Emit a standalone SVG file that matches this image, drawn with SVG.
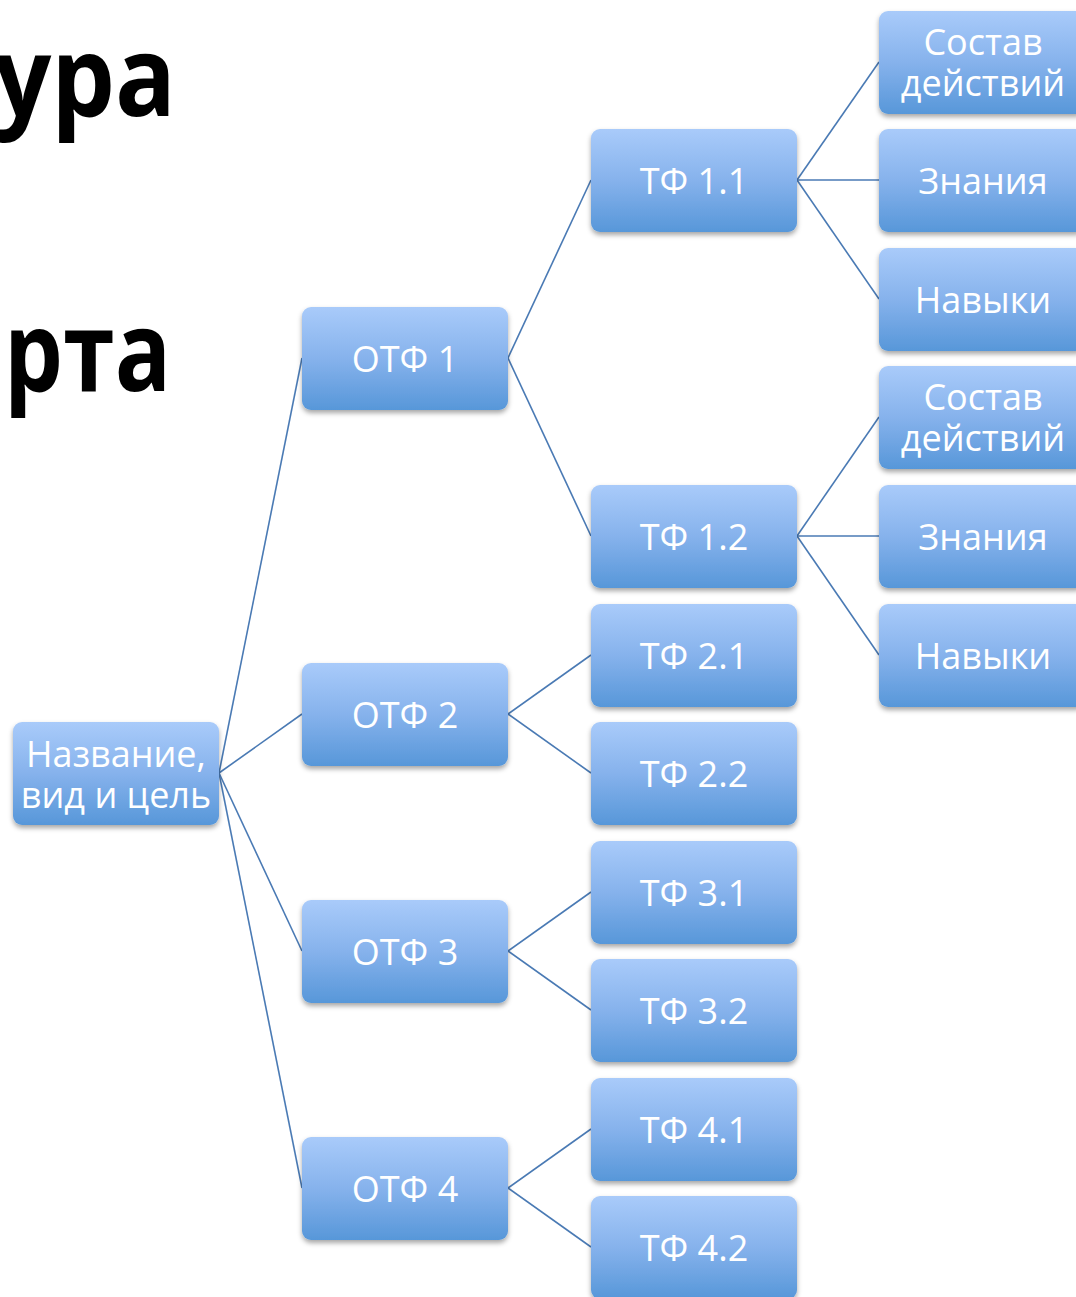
<svg xmlns="http://www.w3.org/2000/svg" width="1076" height="1297" viewBox="0 0 1076 1297">
<defs>
<linearGradient id="g" x1="0" y1="0" x2="0" y2="1">
<stop offset="0" stop-color="#a9cbfa"/>
<stop offset="0.5" stop-color="#86b2ec"/>
<stop offset="1" stop-color="#5797d9"/>
</linearGradient>
<filter id="sh" x="-10%" y="-10%" width="120%" height="130%">
<feDropShadow dx="0" dy="3" stdDeviation="2.5" flood-color="#000" flood-opacity="0.35"/>
</filter>
</defs>
<style>
.n{fill:url(#g);filter:url(#sh)}
.t{font-family:"Open Sans","Noto Sans",sans-serif;font-size:36px;fill:#fff;text-anchor:middle}
.big{font-family:"Open Sans","Noto Sans",sans-serif;font-size:112px;font-weight:bold;fill:#000}
.c line{stroke:#4a7ab4;stroke-width:1.6;fill:none}
</style>
<rect width="1076" height="1297" fill="#fff"/>
<text class="big" x="-6" y="116" textLength="182" lengthAdjust="spacingAndGlyphs">ура</text>
<text class="big" x="4" y="391" textLength="167" lengthAdjust="spacingAndGlyphs">рта</text>
<g class="c" id="connectors">
<line x1="219" y1="773" x2="302" y2="358"/>
<line x1="219" y1="773" x2="302" y2="714"/>
<line x1="219" y1="773" x2="302" y2="951"/>
<line x1="219" y1="773" x2="302" y2="1188"/>
<line x1="508" y1="358" x2="591" y2="180"/>
<line x1="508" y1="358" x2="591" y2="536"/>
<line x1="508" y1="714" x2="591" y2="655"/>
<line x1="508" y1="714" x2="591" y2="773"/>
<line x1="508" y1="951" x2="591" y2="892"/>
<line x1="508" y1="951" x2="591" y2="1010"/>
<line x1="508" y1="1188" x2="591" y2="1129"/>
<line x1="508" y1="1188" x2="591" y2="1247"/>
<line x1="797" y1="180" x2="879" y2="62"/>
<line x1="797" y1="180" x2="879" y2="180"/>
<line x1="797" y1="180" x2="879" y2="299"/>
<line x1="797" y1="536" x2="879" y2="417"/>
<line x1="797" y1="536" x2="879" y2="536"/>
<line x1="797" y1="536" x2="879" y2="655"/>
</g>
<g id="root"><rect class="n" x="13" y="722" width="206" height="103" rx="9"/><text class="t" x="116" y="767">Название,</text><text class="t" x="116" y="808">вид и цель</text></g>
<g id="otf1"><rect class="n" x="302" y="307" width="206" height="103" rx="9"/><text class="t" x="405" y="372">ОТФ 1</text></g>
<g id="otf2"><rect class="n" x="302" y="663" width="206" height="103" rx="9"/><text class="t" x="405" y="728">ОТФ 2</text></g>
<g id="otf3"><rect class="n" x="302" y="900" width="206" height="103" rx="9"/><text class="t" x="405" y="965">ОТФ 3</text></g>
<g id="otf4"><rect class="n" x="302" y="1137" width="206" height="103" rx="9"/><text class="t" x="405" y="1202">ОТФ 4</text></g>
<g id="tf11"><rect class="n" x="591" y="129" width="206" height="103" rx="9"/><text class="t" x="694" y="194">ТФ 1.1</text></g>
<g id="tf12"><rect class="n" x="591" y="485" width="206" height="103" rx="9"/><text class="t" x="694" y="550">ТФ 1.2</text></g>
<g id="tf21"><rect class="n" x="591" y="604" width="206" height="103" rx="9"/><text class="t" x="694" y="669">ТФ 2.1</text></g>
<g id="tf22"><rect class="n" x="591" y="722" width="206" height="103" rx="9"/><text class="t" x="694" y="787">ТФ 2.2</text></g>
<g id="tf31"><rect class="n" x="591" y="841" width="206" height="103" rx="9"/><text class="t" x="694" y="906">ТФ 3.1</text></g>
<g id="tf32"><rect class="n" x="591" y="959" width="206" height="103" rx="9"/><text class="t" x="694" y="1024">ТФ 3.2</text></g>
<g id="tf41"><rect class="n" x="591" y="1078" width="206" height="103" rx="9"/><text class="t" x="694" y="1143">ТФ 4.1</text></g>
<g id="tf42"><rect class="n" x="591" y="1196" width="206" height="103" rx="9"/><text class="t" x="694" y="1261">ТФ 4.2</text></g>
<g id="sd1"><rect class="n" x="879" y="11" width="206" height="103" rx="9"/><text class="t" x="983" y="55">Состав</text><text class="t" x="983" y="96">действий</text></g>
<g id="zn1"><rect class="n" x="879" y="129" width="206" height="103" rx="9"/><text class="t" x="983" y="194">Знания</text></g>
<g id="nv1"><rect class="n" x="879" y="248" width="206" height="103" rx="9"/><text class="t" x="983" y="313">Навыки</text></g>
<g id="sd2"><rect class="n" x="879" y="366" width="206" height="103" rx="9"/><text class="t" x="983" y="410">Состав</text><text class="t" x="983" y="451">действий</text></g>
<g id="zn2"><rect class="n" x="879" y="485" width="206" height="103" rx="9"/><text class="t" x="983" y="550">Знания</text></g>
<g id="nv2"><rect class="n" x="879" y="604" width="206" height="103" rx="9"/><text class="t" x="983" y="669">Навыки</text></g>
</svg>
